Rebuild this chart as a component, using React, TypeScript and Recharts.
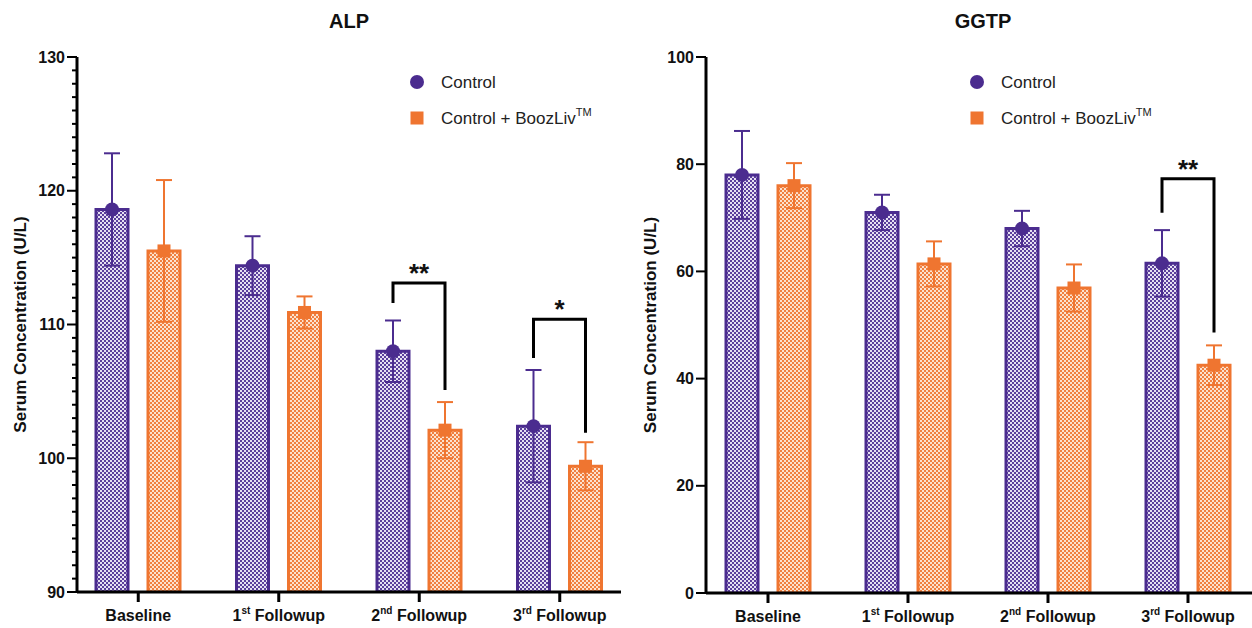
import React from 'react';
import { BarChart, Bar, XAxis, YAxis, ErrorBar, LabelList, Legend } from 'recharts';

// ---------- data ----------
const categories = ['Baseline', '1st Followup', '2nd Followup', '3rd Followup'];
const seriesNames = ['Control', 'Control + BoozLiv'];
const seriesSup = ['', 'TM'];

const alpControl = [118.6, 114.4, 108.0, 102.4];
const alpControlErr = [4.2, 2.2, 2.3, 4.2];
const alpBooz = [115.5, 110.9, 102.1, 99.4];
const alpBoozErr = [5.3, 1.2, 2.1, 1.8];

const ggtpControl = [78.0, 71.0, 68.0, 61.5];
const ggtpControlErr = [8.2, 3.3, 3.3, 6.2];
const ggtpBooz = [76.0, 61.4, 56.9, 42.5];
const ggtpBoozErr = [4.2, 4.2, 4.4, 3.7];

const alpDomain = [90, 130];
const alpMajorTicks = [90, 100, 110, 120, 130];
const alpMinorStep = 1;
const ggtpDomain = [0, 100];
const ggtpMajorTicks = [0, 20, 40, 60, 80, 100];
const ggtpMinorStep = 0;

const alpBrackets = [
  { index: 2, top: 113.1, left: 111.6, right: 105.1, label: '**' },
  { index: 3, top: 110.4, left: 107.5, right: 101.9, label: '*' },
];
const ggtpBrackets = [
  { index: 3, top: 77.3, left: 70.95, right: 48.6, label: '**' },
];

// ---------- style ----------
const PURPLE = '#4B2C8F';
const ORANGE = '#EF7530';
const FONT = '"Liberation Sans", Arial, Helvetica, sans-serif';
const BAR_SIZE = 32;
const BAR_GAP = 20;

function buildRows(c: number[], ce: number[], b: number[], be: number[]) {
  return categories.map((name, i) => ({ name, c: c[i], cErr: ce[i], b: b[i], bErr: be[i] }));
}

function buildTicks(major: number[], step: number) {
  if (!step) return major;
  const out: number[] = [];
  for (let i = 0; i < major.length - 1; i++) {
    for (let v = major[i]; v < major[i + 1] - 1e-9; v += step) out.push(Math.round(v * 1000) / 1000);
  }
  out.push(major[major.length - 1]);
  return out;
}

const makeYTick = (major: number[]) => (props: any) => {
  const { x, y, payload } = props;
  const v = payload.value;
  const isMajor = major.includes(v);
  const len = isMajor ? 10 : 5;
  return (
    <g>
      <line x1={x - len} x2={x} y1={y} y2={y} stroke="#000" strokeWidth={2} />
      {isMajor && (
        <text x={x - 12} y={y} dy={5.5} textAnchor="end" fontSize={16} fontWeight="bold" fontFamily={FONT} fill="#111">
          {v}
        </text>
      )}
    </g>
  );
};

const XTick = (props: any) => {
  const { x, y, payload } = props;
  const m = /^(\d+)(st|nd|rd|th) (.*)$/.exec(String(payload.value));
  return (
    <g>
      <line x1={x} x2={x} y1={y} y2={y + 10} stroke="#000" strokeWidth={3} />
      <text x={x} y={y + 29} textAnchor="middle" fontSize={16} fontWeight="bold" fontFamily={FONT} fill="#111">
        {m ? (
          <>
            <tspan>{m[1]}</tspan>
            <tspan dy={-7} fontSize={10}>{m[2]}</tspan>
            <tspan dy={7}>{'\u00A0' + m[3]}</tspan>
          </>
        ) : (
          payload.value
        )}
      </text>
    </g>
  );
};

const circleMarker = (props: any) => {
  const vb = props.viewBox || props;
  const cx = vb.x + vb.width / 2;
  return <circle cx={cx} cy={vb.y} r={7} fill={PURPLE} />;
};

const makeBoozMarker = (dmin: number, brackets: any[]) => (props: any) => {
  const vb = props.viewBox || props;
  const cx = vb.x + vb.width / 2;
  const bottom = vb.y + vb.height;
  const val = Number(props.value);
  const ppu = vb.height / (val - dmin);
  const yOf = (v: number) => bottom - (v - dmin) * ppu;
  const br = brackets.find((b) => b.index === props.index);
  const lx = cx - (BAR_SIZE + BAR_GAP);
  return (
    <g>
      <rect x={cx - 6.5} y={vb.y - 6.5} width={13} height={13} fill={ORANGE} />
      {br && (
        <g>
          <polyline
            points={`${lx},${yOf(br.left)} ${lx},${yOf(br.top)} ${cx},${yOf(br.top)} ${cx},${yOf(br.right)}`}
            fill="none"
            stroke="#000"
            strokeWidth={3}
          />
          <text x={(lx + cx) / 2} y={yOf(br.top) - 1} textAnchor="middle" fontSize={26} fontWeight="bold" fontFamily={FONT} fill="#111">
            {br.label}
          </text>
        </g>
      )}
    </g>
  );
};

const LegendBox = () => (
  <svg width={240} height={60} style={{ display: 'block', overflow: 'visible' }}>
    <circle cx={12} cy={12} r={7} fill={PURPLE} />
    <text x={36} y={18} fontSize={17} fontFamily={FONT} fill="#222">{seriesNames[0]}</text>
    <rect x={5.5} y={41.5} width={13} height={13} fill={ORANGE} />
    <text x={36} y={54} fontSize={17} fontFamily={FONT} fill="#222">
      {seriesNames[1]}
      <tspan dy={-8} fontSize={11}>{seriesSup[1]}</tspan>
    </text>
  </svg>
);

type PanelProps = {
  title: string;
  rows: any[];
  domain: number[];
  major: number[];
  minorStep: number;
  brackets: any[];
  width: number;
  marginRight: number;
  yWidth: number;
  xHeight: number;
  padLeft: number;
  padRight: number;
  legendLeft: number;
};

function Panel(p: PanelProps) {
  const height = 628;
  const top = 57;
  const plotLeft = p.yWidth;
  const plotRight = p.width - p.marginRight;
  const plotBottom = height - p.xHeight;
  const ticks = buildTicks(p.major, p.minorStep);
  return (
    <div style={{ position: 'relative', width: p.width, height, flex: '0 0 auto' }}>
      <BarChart
        width={p.width}
        height={height}
        data={p.rows}
        margin={{ top, right: p.marginRight, left: 0, bottom: 0 }}
        barGap={BAR_GAP}
      >
        <XAxis
          dataKey="name"
          height={p.xHeight}
          padding={{ left: p.padLeft, right: p.padRight }}
          axisLine={{ stroke: '#000', strokeWidth: 3 }}
          tickLine={false}
          tickSize={0}
          tickMargin={0}
          tick={XTick}
          interval={0}
        />
        <YAxis
          type="number"
          width={p.yWidth}
          domain={p.domain}
          ticks={ticks}
          interval={0}
          allowDataOverflow
          axisLine={{ stroke: '#000', strokeWidth: 3 }}
          tickLine={false}
          tickSize={0}
          tickMargin={0}
          tick={makeYTick(p.major)}
        />
        <Legend
          layout="vertical"
          align="center"
          verticalAlign="middle"
          wrapperStyle={{ left: p.legendLeft, top: 70, width: 240 }}
          content={() => <LegendBox />}
        />
        <Bar
          dataKey="c"
          name={seriesNames[0]}
          barSize={BAR_SIZE}
          fill="url(#purpleChecks)"
          stroke={PURPLE}
          strokeWidth={3}
          isAnimationActive={false}
        >
          <ErrorBar dataKey="cErr" width={8} strokeWidth={2} stroke={PURPLE} direction="y" />
          <LabelList dataKey="c" content={circleMarker} />
        </Bar>
        <Bar
          dataKey="b"
          name={seriesNames[1]}
          barSize={BAR_SIZE}
          fill="url(#orangeChecks)"
          stroke={ORANGE}
          strokeWidth={3}
          isAnimationActive={false}
        >
          <ErrorBar dataKey="bErr" width={8} strokeWidth={2} stroke={ORANGE} direction="y" />
          <LabelList dataKey="b" content={makeBoozMarker(p.domain[0], p.brackets)} />
        </Bar>
      </BarChart>
      <svg
        width={p.width}
        height={height}
        style={{ position: 'absolute', left: 0, top: 0, pointerEvents: 'none' }}
      >
        <text
          x={(plotLeft + plotRight) / 2}
          y={28}
          textAnchor="middle"
          fontSize={20}
          fontWeight="bold"
          fontFamily={FONT}
          fill="#111"
        >
          {p.title}
        </text>
        <text
          x={20}
          y={(top + plotBottom) / 2}
          transform={`rotate(-90 20 ${(top + plotBottom) / 2})`}
          textAnchor="middle"
          dominantBaseline="central"
          fontSize={17}
          fontWeight="bold"
          fontFamily={FONT}
          fill="#111"
        >
          Serum Concentration (U/L)
        </text>
      </svg>
    </div>
  );
}

export default function App() {
  const alpRows = buildRows(alpControl, alpControlErr, alpBooz, alpBoozErr);
  const ggtpRows = buildRows(ggtpControl, ggtpControlErr, ggtpBooz, ggtpBoozErr);
  return (
    <div
      style={{
        position: 'absolute',
        left: 0,
        top: 0,
        width: 1252,
        height: 628,
        overflow: 'hidden',
        background: '#fff',
        display: 'flex',
        fontFamily: FONT,
      }}
    >
      <svg width={0} height={0} style={{ position: 'absolute' }}>
        <defs>
          <pattern id="purpleChecks" patternUnits="userSpaceOnUse" width={4} height={4}>
            <rect x={0} y={0} width={4} height={4} fill="#E6E0F2" />
            <rect x={0} y={0} width={2} height={2} fill="#5B3F9C" />
            <rect x={2} y={2} width={2} height={2} fill="#5B3F9C" />
          </pattern>
          <pattern id="orangeChecks" patternUnits="userSpaceOnUse" width={4} height={4}>
            <rect x={0} y={0} width={4} height={4} fill="#FCE2CF" />
            <rect x={0} y={0} width={2} height={2} fill="#F08040" />
            <rect x={2} y={2} width={2} height={2} fill="#F08040" />
          </pattern>
        </defs>
      </svg>
      <Panel
        title="ALP"
        rows={alpRows}
        domain={alpDomain}
        major={alpMajorTicks}
        minorStep={alpMinorStep}
        brackets={alpBrackets}
        width={630}
        marginRight={9}
        yWidth={77}
        xHeight={36}
        padLeft={-9}
        padRight={-9}
        legendLeft={405}
      />
      <Panel
        title="GGTP"
        rows={ggtpRows}
        domain={ggtpDomain}
        major={ggtpMajorTicks}
        minorStep={ggtpMinorStep}
        brackets={ggtpBrackets}
        width={630}
        marginRight={0}
        yWidth={76}
        xHeight={35}
        padLeft={-8}
        padRight={2}
        legendLeft={335}
      />
    </div>
  );
}
